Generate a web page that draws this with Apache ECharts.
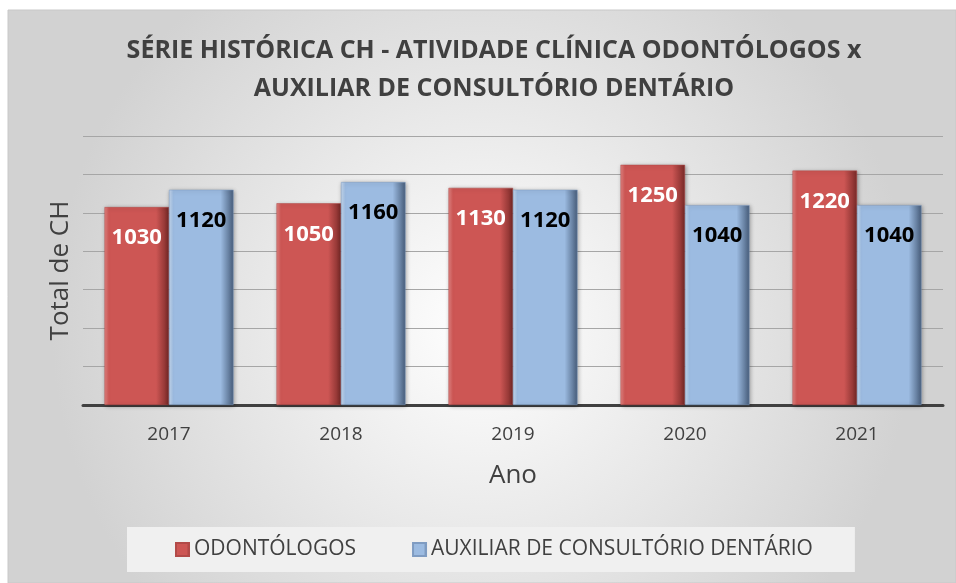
<!DOCTYPE html>
<html>
<head>
<meta charset="utf-8">
<script src="https://cdn.jsdelivr.net/npm/echarts@6/dist/echarts.min.js"></script>
<style>
  html, body { margin: 0; padding: 0; background: #ffffff; }
  #main { width: 956px; height: 583px; }
</style>
</head>
<body>
<div id="main"></div>
<script type="text/javascript">
    var anos = ['2017', '2018', '2019', '2020', '2021'];
    var odontologos = [1030, 1050, 1130, 1250, 1220];
    var auxiliar = [1120, 1160, 1120, 1040, 1040];
    var nomes = ['ODONTÓLOGOS', 'AUXILIAR DE CONSULTÓRIO DENTÁRIO'];

    var fonte = '"Open Sans", "Noto Sans", sans-serif';

    function bevel(claro, meio, escuro) {
        return new echarts.graphic.LinearGradient(0, 0, 1, 0, [
            {offset: 0, color: claro},
            {offset: 0.07, color: meio},
            {offset: 0.8, color: meio},
            {offset: 1, color: escuro}
        ]);
    }

    var myChart = echarts.init(document.getElementById('main'));
    var myOption = {
        animation: false,
        graphic: [{
            type: 'rect',
            z: -10,
            silent: true,
            shape: {x: 8, y: 10, width: 948, height: 573},
            style: {
                fill: new echarts.graphic.RadialGradient(0.5, 0.55, 0.75, [
                    {offset: 0, color: '#ffffff'},
                    {offset: 1, color: '#d2d2d2'}
                ]),
                stroke: '#c8c8c8',
                lineWidth: 1
            }
        }],
        title: {
            text: 'SÉRIE HISTÓRICA CH - ATIVIDADE CLÍNICA ODONTÓLOGOS x\nAUXILIAR DE CONSULTÓRIO DENTÁRIO',
            left: 489,
            textAlign: 'center',
            top: 27,
            textStyle: {
                fontFamily: fonte,
                fontSize: 25,
                fontWeight: 'bold',
                color: '#404040',
                lineHeight: 38
            }
        },
        legend: {
            data: nomes,
            bottom: 11,
            left: 127,
            itemGap: 56,
            itemWidth: 13,
            itemHeight: 13,
            icon: 'rect',
            backgroundColor: '#f0f0f0',
            padding: [12, 42, 12, 48],
            textStyle: {fontFamily: fonte, fontSize: 21, color: '#404040'}
        },
        grid: {left: 83, right: 13, top: 136, bottom: 178},
        xAxis: {
            type: 'category',
            data: anos,
            name: 'Ano',
            nameLocation: 'middle',
            nameGap: 58,
            nameTextStyle: {fontFamily: fonte, fontSize: 26, color: '#404040'},
            axisLine: {lineStyle: {color: '#404040', width: 3}},
            axisTick: {show: false},
            axisLabel: {margin: 20, fontFamily: fonte, fontSize: 19, color: '#404040'}
        },
        yAxis: {
            type: 'value',
            min: 0,
            max: 1400,
            interval: 200,
            name: 'Total de CH',
            nameLocation: 'middle',
            nameGap: 9,
            nameTextStyle: {fontFamily: fonte, fontSize: 26, color: '#404040'},
            axisLine: {show: false},
            axisTick: {show: false},
            axisLabel: {show: false},
            splitLine: {lineStyle: {color: '#a6a6a6', width: 1}}
        },
        series: [
            {
                name: nomes[0],
                type: 'bar',
                data: odontologos,
                barGap: '0%',
                barCategoryGap: '25%',
                itemStyle: {
                    color: bevel('#e38481', '#cd5654', '#7a2a28'),
                    borderColor: '#b24a48',
                    borderWidth: 0.5,
                    shadowColor: 'rgba(0,0,0,0.35)',
                    shadowBlur: 4,
                    shadowOffsetX: 1,
                    shadowOffsetY: 1
                },
                label: {
                    show: true,
                    position: 'insideTop',
                    distance: 20,
                    fontFamily: fonte,
                    fontSize: 22,
                    fontWeight: 'bold',
                    color: '#ffffff'
                }
            },
            {
                name: nomes[1],
                type: 'bar',
                data: auxiliar,
                itemStyle: {
                    color: bevel('#c6d8ee', '#9cbbe1', '#475d7b'),
                    borderColor: '#7f9cc2',
                    borderWidth: 0.5,
                    shadowColor: 'rgba(0,0,0,0.35)',
                    shadowBlur: 4,
                    shadowOffsetX: 1,
                    shadowOffsetY: 1
                },
                label: {
                    show: true,
                    position: 'insideTop',
                    distance: 20,
                    fontFamily: fonte,
                    fontSize: 22,
                    fontWeight: 'bold',
                    color: '#000000'
                }
            }
        ]
    };

    myChart.setOption(myOption);
</script>
</body>
</html>
